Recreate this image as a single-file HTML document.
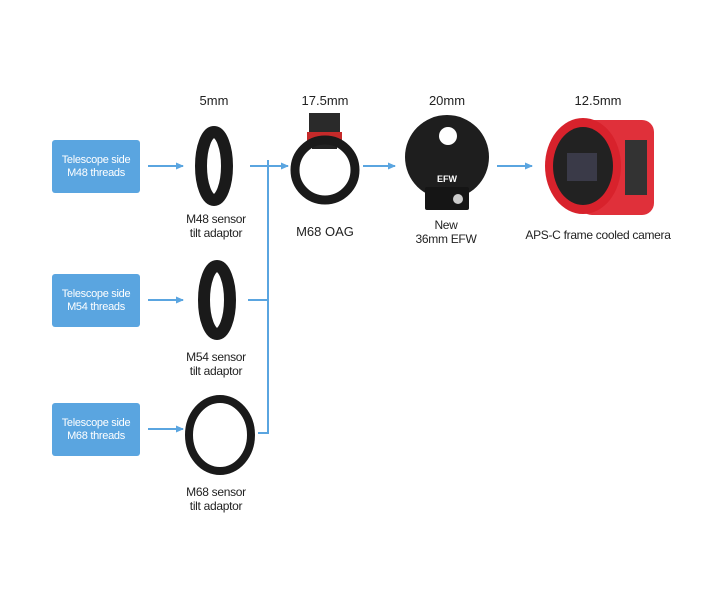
<!DOCTYPE html>
<html><head><meta charset="utf-8"><style>
html,body{margin:0;padding:0;background:#fff;}
svg{display:block;font-family:"Liberation Sans",sans-serif;}
</style></head><body>
<svg width="720" height="600" viewBox="0 0 720 600" xmlns="http://www.w3.org/2000/svg">
<defs>
<marker id="ah" markerWidth="8" markerHeight="8" refX="7" refY="4" orient="auto" markerUnits="userSpaceOnUse"><path d="M0,0.5 L8,4 L0,7.5 Z" fill="#5aa5e0"/></marker>
</defs>
<g fill="#5aa5e0">
<rect x="52" y="140" width="88" height="53" rx="3"/>
<rect x="52" y="274" width="88" height="53" rx="3"/>
<rect x="52" y="403" width="88" height="53" rx="3"/>
</g>
<g fill="#fff" font-size="11" text-anchor="middle" letter-spacing="-0.3">
<text x="96" y="163">Telescope side</text><text x="96" y="176">M48 threads</text>
<text x="96" y="297">Telescope side</text><text x="96" y="310">M54 threads</text>
<text x="96" y="426">Telescope side</text><text x="96" y="439">M68 threads</text>
</g>
<g stroke="#5aa5e0" stroke-width="2" fill="none">
<line x1="148" y1="166" x2="183" y2="166" marker-end="url(#ah)"/>
<line x1="148" y1="300" x2="183" y2="300" marker-end="url(#ah)"/>
<line x1="148" y1="429" x2="183" y2="429" marker-end="url(#ah)"/>
<line x1="250" y1="166" x2="268" y2="166"/>
<line x1="248" y1="300" x2="268" y2="300"/>
<line x1="258" y1="433" x2="268" y2="433"/>
<line x1="268" y1="160" x2="268" y2="434"/>
<line x1="268" y1="166" x2="288" y2="166" marker-end="url(#ah)"/>
<line x1="363" y1="166" x2="395" y2="166" marker-end="url(#ah)"/>
<line x1="497" y1="166" x2="532" y2="166" marker-end="url(#ah)"/>
</g>
<!-- rings -->
<ellipse cx="214" cy="166" rx="13" ry="34" fill="none" stroke="#1a1a1a" stroke-width="12"/>
<ellipse cx="217" cy="300" rx="13" ry="34" fill="none" stroke="#1a1a1a" stroke-width="12"/>
<ellipse cx="220" cy="435" rx="31" ry="36" fill="none" stroke="#1a1a1a" stroke-width="8"/>
<!-- OAG -->
<rect x="309" y="113" width="31" height="20" fill="#2a2a2a"/>
<rect x="307" y="132" width="35" height="9" fill="#c52a2a"/>
<rect x="312" y="141" width="25" height="8" fill="#222"/>
<circle cx="325" cy="170" r="30" fill="none" stroke="#1a1a1a" stroke-width="9"/>
<!-- EFW -->
<circle cx="447" cy="157" r="42" fill="#1e1e1e"/>
<circle cx="448" cy="136" r="9" fill="#fff"/>
<rect x="425" y="187" width="44" height="23" rx="2" fill="#151515"/>
<text x="447" y="182" fill="#fff" font-size="9" font-weight="bold" text-anchor="middle">EFW</text>
<circle cx="458" cy="199" r="5" fill="#ccc"/>
<!-- camera -->
<rect x="580" y="120" width="74" height="95" rx="12" fill="#e0303a"/>
<rect x="625" y="140" width="22" height="55" fill="#333"/>
<ellipse cx="583" cy="166" rx="38" ry="48" fill="#d8222c"/>
<ellipse cx="583" cy="166" rx="30" ry="39" fill="#222"/>
<rect x="567" y="153" width="30" height="28" fill="#3a3a48"/>
<g fill="#222" font-size="13" text-anchor="middle">
<text x="214" y="105">5mm</text>
<text x="325" y="105">17.5mm</text>
<text x="447" y="105">20mm</text>
<text x="598" y="105">12.5mm</text>
<text x="325" y="236">M68 OAG</text>
</g>
<g fill="#222" font-size="12" text-anchor="middle" letter-spacing="-0.3">
<text x="216" y="223">M48 sensor</text><text x="216" y="237">tilt adaptor</text>
<text x="216" y="361">M54 sensor</text><text x="216" y="375">tilt adaptor</text>
<text x="216" y="496">M68 sensor</text><text x="216" y="510">tilt adaptor</text>
<text x="446" y="229">New</text><text x="446" y="243">36mm EFW</text>
<text x="598" y="239">APS-C frame cooled camera</text>
</g>
</svg>
</body></html>
